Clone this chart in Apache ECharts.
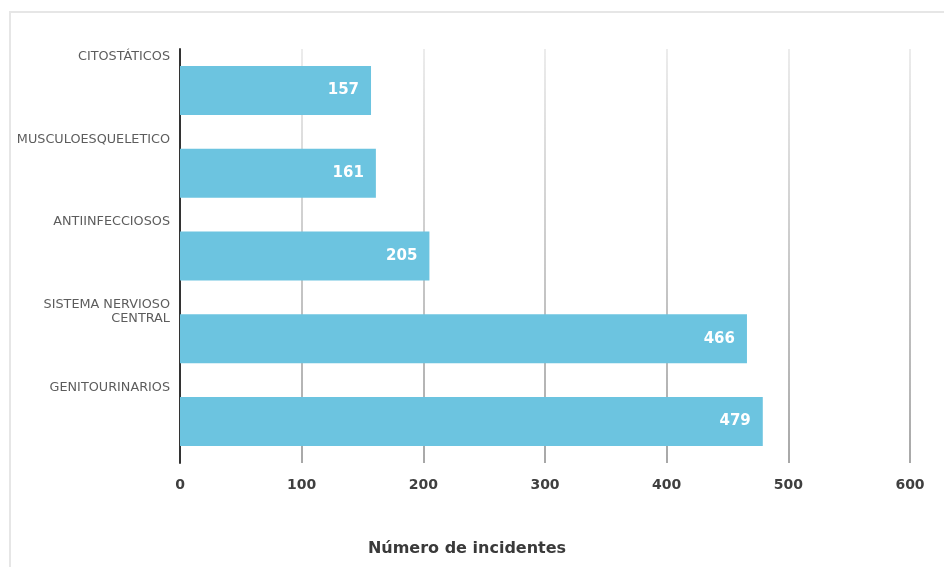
<!DOCTYPE html>
<html>
<head>
<meta charset="utf-8">
<script src="https://cdn.jsdelivr.net/npm/echarts@6/dist/echarts.min.js"></script>
<style>
  html, body { margin: 0; padding: 0; background: #ffffff; }
  #chart { width: 944px; height: 567px; }
</style>
</head>
<body>
<div id="chart"></div>
<script>
// Incidents by therapeutic group, top to bottom
const categories = ['CITOSTÁTICOS', 'MUSCULOESQUELETICO', 'ANTIINFECCIOSOS', 'SISTEMA NERVIOSO\nCENTRAL', 'GENITOURINARIOS'];
const incidents = [157, 161, 205, 466, 479];
const xTicks = [0, 100, 200, 300, 400, 500, 600];

const chart = echarts.init(document.getElementById('chart'), null, { renderer: 'canvas' });

const gridTop = 49, gridBottomY = 463;
const gridLineGradient = new echarts.graphic.LinearGradient(0, gridTop, 0, gridBottomY, [
  { offset: 0, color: '#ececec' },
  { offset: 1, color: '#a8a8a8' }
], true);

chart.setOption({
  backgroundColor: '#ffffff',
  animation: false,
  graphic: [{
    type: 'rect',
    shape: { x: 10, y: 12, width: 1000, height: 1000 },
    style: { fill: 'none', stroke: '#e6e6e6', lineWidth: 2 },
    silent: true,
    z: -1
  }],
  grid: { left: 180, right: 34, top: gridTop, bottom: 567 - gridBottomY, containLabel: false },
  xAxis: {
    type: 'value',
    min: xTicks[0],
    max: xTicks[xTicks.length - 1],
    interval: xTicks[1] - xTicks[0],
    axisLine: { show: false },
    axisTick: { show: false },
    splitLine: { show: true, lineStyle: { color: gridLineGradient, width: 2 } },
    axisLabel: {
      margin: 15,
      color: '#3f3f3f',
      fontFamily: 'DejaVu Sans',
      fontWeight: 'bold',
      fontSize: 14
    },
    name: 'Número de incidentes',
    nameLocation: 'middle',
    nameGap: 78,
    nameTextStyle: {
      color: '#3a3a3a',
      fontFamily: 'DejaVu Sans',
      fontWeight: 'bold',
      fontSize: 16,
      padding: [0, 156, 0, 0]
    }
  },
  yAxis: {
    type: 'category',
    data: categories,
    inverse: true,
    axisLine: { show: true, lineStyle: { color: '#333333', width: 2 } },
    axisTick: { show: false },
    axisLabel: { show: false },
    splitLine: { show: false }
  },
  series: [
    {
      type: 'bar',
      data: incidents,
      barWidth: 49,
      itemStyle: { color: '#6cc4e0' },
      label: {
        show: true,
        position: 'insideRight',
        distance: 12,
        color: '#ffffff',
        fontFamily: 'DejaVu Sans',
        fontWeight: 'bold',
        fontSize: 15
      },
      z: 3
    },
    {
      // category names drawn at the top-left of each band
      type: 'scatter',
      data: categories.map(function (c) { return [0, c]; }),
      symbolSize: 0,
      silent: true,
      label: {
        show: true,
        position: 'left',
        distance: 10,
        align: 'right',
        verticalAlign: 'top',
        offset: [0, -41],
        formatter: function (p) { return p.value[1]; },
        color: '#333333',
        fontFamily: 'DejaVu Sans',
        fontSize: 12.8,
        lineHeight: 14
      },
      z: 4
    }
  ]
});
</script>
</body>
</html>
